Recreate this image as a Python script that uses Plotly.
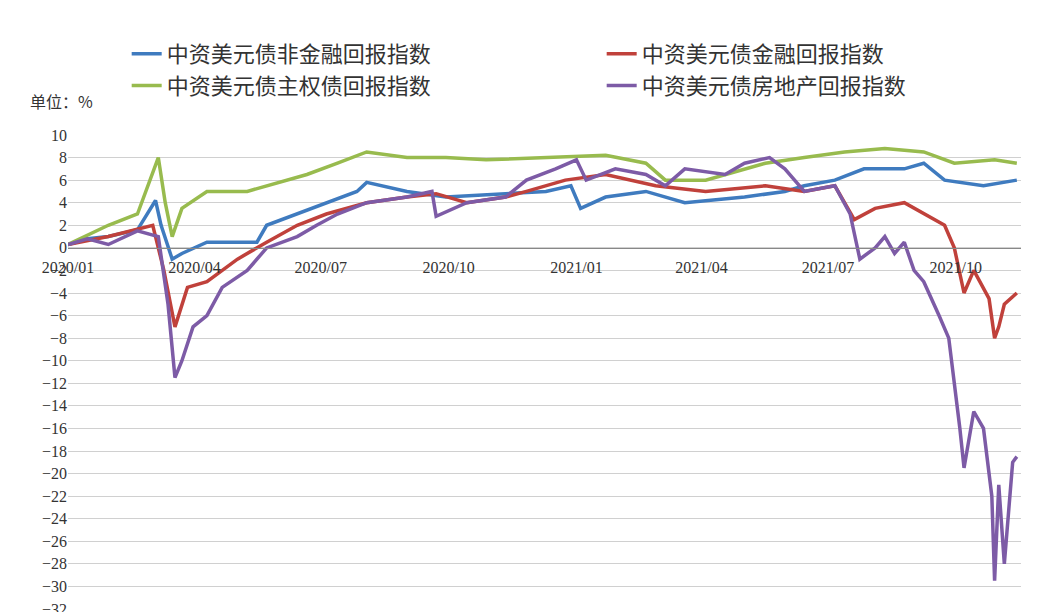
import plotly.graph_objects as go

# 中资美元债回报指数, 单位 %
blue_dates = ["2020-01-01", "2020-01-15", "2020-01-30", "2020-02-20", "2020-03-04", "2020-03-08", "2020-03-16",
              "2020-03-23", "2020-04-10", "2020-05-16", "2020-05-23", "2020-06-14", "2020-07-05", "2020-07-27",
              "2020-08-03", "2020-09-01", "2020-09-29", "2020-11-11", "2020-12-10", "2020-12-28", "2021-01-04",
              "2021-01-22", "2021-02-20", "2021-03-20", "2021-04-04", "2021-05-02", "2021-05-31", "2021-06-14",
              "2021-07-06", "2021-07-27", "2021-08-25", "2021-09-08", "2021-09-23", "2021-10-21", "2021-11-14"]
blue_vals = [0.3, 0.8, 1.0, 1.6, 4.2, 2.0, -1.0, -0.5, 0.5, 0.5, 2.0, 3.0, 4.0, 5.0,
             5.8, 5.0, 4.5, 4.8, 5.0, 5.5, 3.5, 4.5, 5.0, 4.0, 4.2, 4.5, 5.0, 5.5,
             6.0, 7.0, 7.0, 7.5, 6.0, 5.5, 6.0]

red_dates = ["2020-01-01", "2020-01-30", "2020-03-02", "2020-03-10", "2020-03-18", "2020-03-27", "2020-04-10",
             "2020-05-02", "2020-05-23", "2020-06-14", "2020-07-05", "2020-08-03", "2020-09-01", "2020-09-22",
             "2020-10-14", "2020-11-11", "2020-11-26", "2020-12-24", "2021-01-22", "2021-02-27", "2021-04-04",
             "2021-05-17", "2021-06-14", "2021-07-06", "2021-07-20", "2021-07-27", "2021-08-04", "2021-08-25",
             "2021-09-08", "2021-09-23", "2021-09-30", "2021-10-07", "2021-10-14", "2021-10-25", "2021-10-29",
             "2021-11-01", "2021-11-05", "2021-11-14"]
red_vals = [0.3, 1.0, 2.0, -2.0, -7.0, -3.5, -3.0, -1.0, 0.5, 2.0, 3.0, 4.0, 4.5, 4.8,
            4.0, 4.5, 5.0, 6.0, 6.5, 5.5, 5.0, 5.5, 5.0, 5.5, 2.5, 3.0, 3.5, 4.0,
            3.0, 2.0, 0.0, -4.0, -2.0, -4.5, -8.0, -7.0, -5.0, -4.0]

green_dates = ["2020-01-01", "2020-01-30", "2020-02-20", "2020-03-06", "2020-03-11", "2020-03-16", "2020-03-23",
               "2020-04-10", "2020-05-09", "2020-05-23", "2020-06-21", "2020-07-13", "2020-08-03", "2020-09-01",
               "2020-09-29", "2020-10-28", "2020-12-10", "2021-01-22", "2021-02-20", "2021-03-06", "2021-04-04",
               "2021-05-17", "2021-06-14", "2021-07-13", "2021-08-11", "2021-09-08", "2021-09-30", "2021-10-29",
               "2021-11-14"]
green_vals = [0.3, 2.0, 3.0, 8.0, 4.0, 1.0, 3.5, 5.0, 5.0, 5.5, 6.5, 7.5, 8.5, 8.0,
              8.0, 7.8, 8.0, 8.2, 7.5, 6.0, 6.0, 7.5, 8.0, 8.5, 8.8, 8.5, 7.5, 7.8, 7.5]

purple_dates = ["2020-01-01", "2020-01-15", "2020-01-30", "2020-02-20", "2020-03-06", "2020-03-13", "2020-03-18",
                "2020-03-23", "2020-03-31", "2020-04-10", "2020-04-21", "2020-05-09", "2020-05-23", "2020-06-14",
                "2020-06-28", "2020-07-13", "2020-08-03", "2020-09-01", "2020-09-19", "2020-09-22", "2020-10-14",
                "2020-11-11", "2020-11-26", "2020-12-17", "2021-01-01", "2021-01-08", "2021-01-29", "2021-02-20",
                "2021-03-06", "2021-03-20", "2021-04-18", "2021-05-02", "2021-05-20", "2021-05-31", "2021-06-14",
                "2021-07-06", "2021-07-17", "2021-07-24", "2021-08-04", "2021-08-11", "2021-08-18", "2021-08-25",
                "2021-09-01", "2021-09-08", "2021-09-19", "2021-09-26", "2021-10-04", "2021-10-07", "2021-10-14",
                "2021-10-21", "2021-10-27", "2021-10-29", "2021-11-01", "2021-11-05", "2021-11-11", "2021-11-14"]
purple_vals = [0.3, 0.8, 0.3, 1.5, 1.0, -5.0, -11.5, -10.0, -7.0, -6.0, -3.5, -2.0, 0.0, 1.0,
               2.0, 3.0, 4.0, 4.5, 5.0, 2.8, 4.0, 4.5, 6.0, 7.0, 7.8, 6.0, 7.0, 6.5,
               5.5, 7.0, 6.5, 7.5, 8.0, 7.0, 5.0, 5.5, 3.0, -1.0, 0.0, 1.0, -0.5, 0.5,
               -2.0, -3.0, -6.0, -8.0, -16.0, -19.5, -14.5, -16.0, -22.0, -29.5, -21.0, -28.0, -19.0, -18.5]

series = [
    ("中资美元债非金融回报指数", blue_dates, blue_vals, "#3F7BBF"),
    ("中资美元债金融回报指数", red_dates, red_vals, "#C0413B"),
    ("中资美元债主权债回报指数", green_dates, green_vals, "#98BB4E"),
    ("中资美元债房地产回报指数", purple_dates, purple_vals, "#7D5BA6"),
]

tick_dates = ["2020-01-01", "2020-04-01", "2020-07-01", "2020-10-01",
              "2021-01-01", "2021-04-01", "2021-07-01", "2021-10-01"]
tick_labels = ["2020/01", "2020/04", "2020/07", "2020/10", "2021/01", "2021/04", "2021/07", "2021/10"]

fig = go.Figure()
for name, d, v, c in series:
    fig.add_trace(go.Scatter(x=d, y=v, name=name, mode="lines", line=dict(color=c, width=3.5)))

fig.update_layout(
    width=1042, height=612,
    margin=dict(l=60, r=29, t=127, b=11, autoexpand=False),
    plot_bgcolor="white", paper_bgcolor="white",
    font=dict(family="Liberation Serif", size=16, color="#333"),
    legend=dict(orientation="h", x=0.56, xanchor="center", y=1 + (127 - 25) / 474, yanchor="top",
                entrywidth=430, font=dict(family="Noto Sans CJK SC", size=22, color="#333"),
                traceorder="normal"),
    xaxis=dict(range=["2020-01-01", "2021-11-17"], tickvals=tick_dates, ticktext=tick_labels,
               anchor="free", position=0.7616, showline=True, linecolor="#888", showgrid=False,
               ticks="outside", ticklen=5, tickcolor="rgba(0,0,0,0)", zeroline=False),
    yaxis=dict(range=[-32, 10], dtick=2, showgrid=True, gridcolor="#D0D0D0", zeroline=False,
               ticks=""),
    annotations=[dict(text="单位：%", x=0, xref="paper", xanchor="left", xshift=-40,
                      y=1 + (127 - 93) / 474, yref="paper",
                      yanchor="middle", showarrow=False,
                      font=dict(family="Noto Sans CJK SC", size=16, color="#333"))],
)
fig.write_html("out.html")
